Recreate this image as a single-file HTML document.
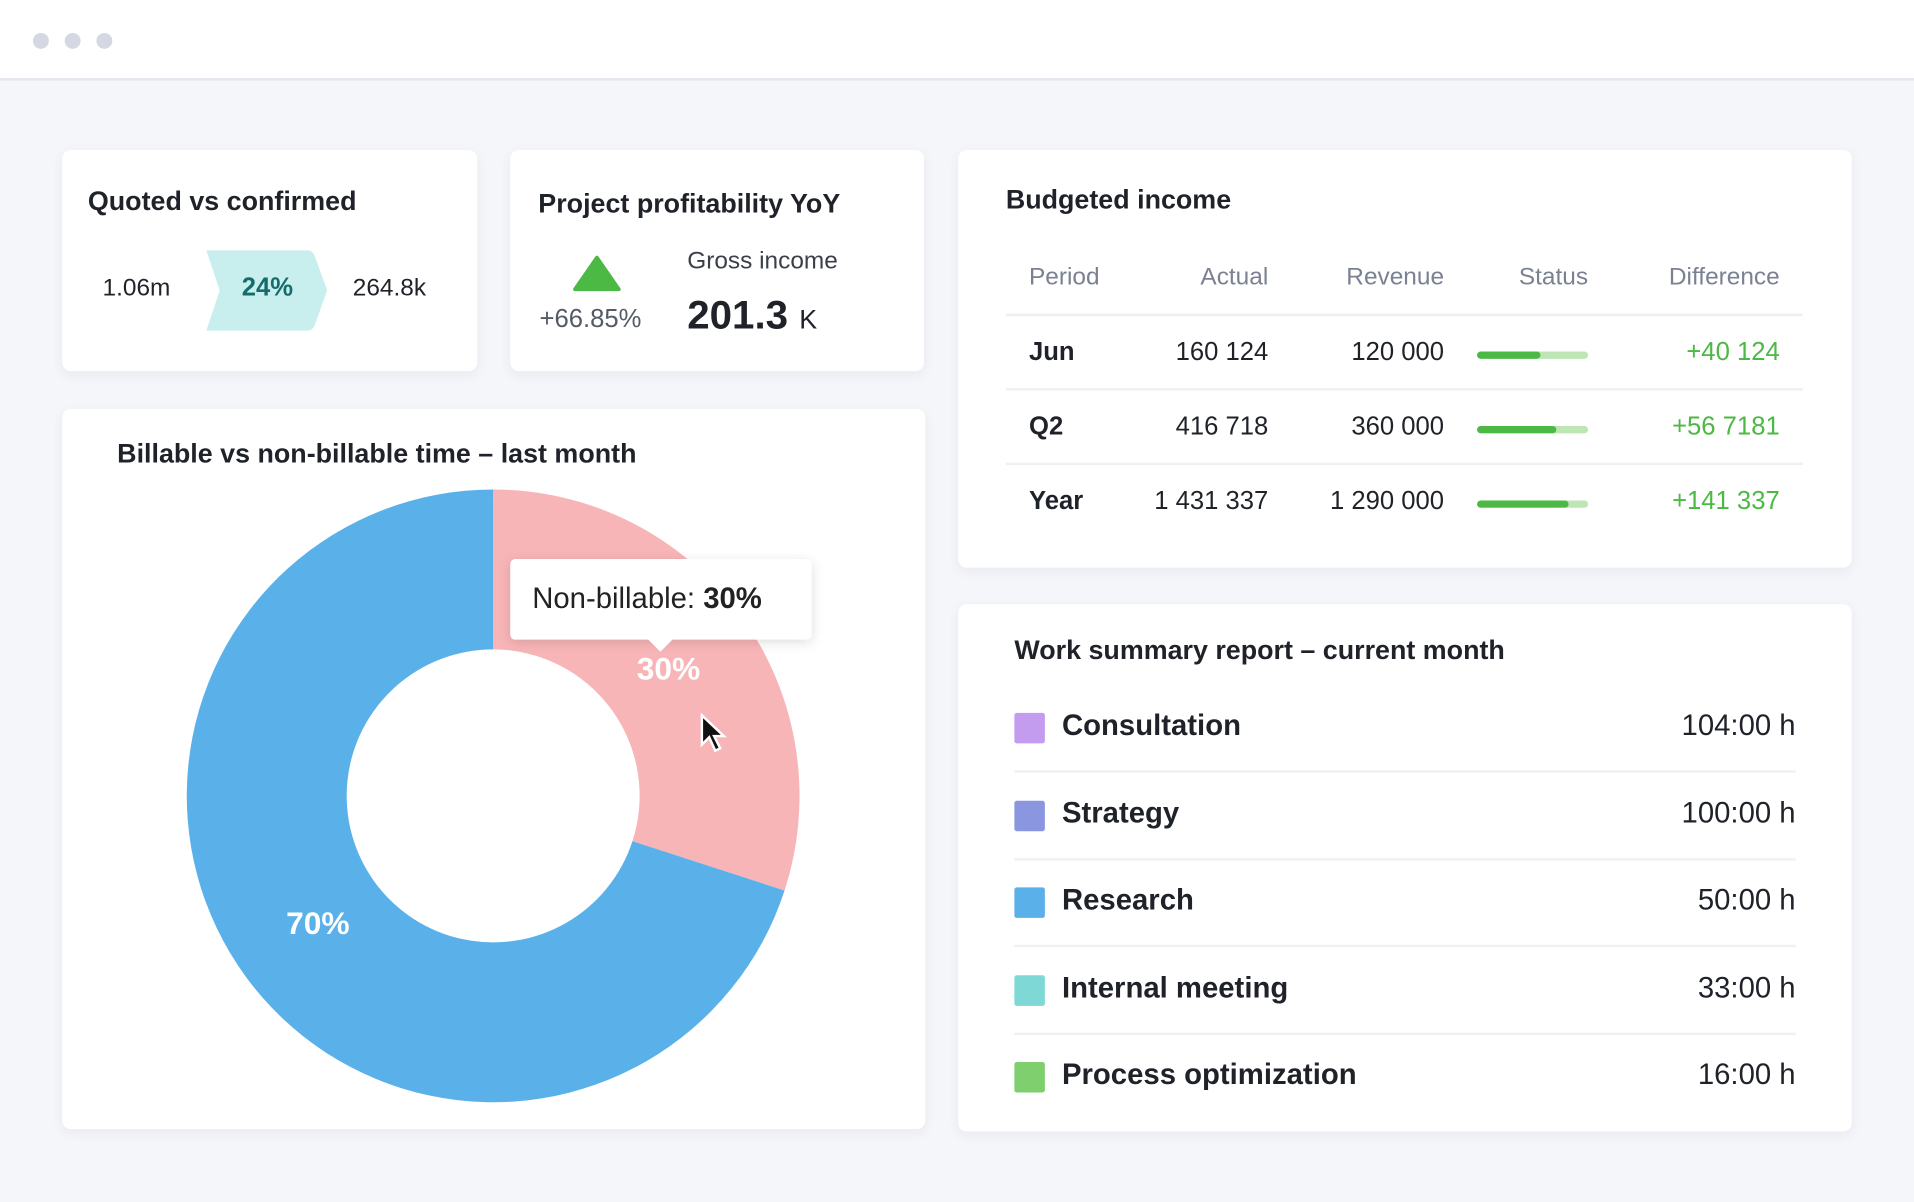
<!DOCTYPE html>
<html><head><meta charset="utf-8"><style>
html,body{margin:0;padding:0;width:1914px;height:1202px;overflow:hidden;background:#f5f6fa;font-family:"Liberation Sans",sans-serif;color:#1f2329}
#wrap{position:absolute;left:0;top:0;width:1568px;height:985px;transform:scale(1.22066);transform-origin:0 0}
.top{position:absolute;left:0;top:0;width:1568px;height:64px;background:#fff;border-bottom:2px solid #e4e7ee}
.dot{position:absolute;top:27px;width:13px;height:13px;border-radius:50%;background:#d3d8e3}
.card{position:absolute;background:#fff;border-radius:7px;box-shadow:0 3px 10px rgba(30,40,70,.06)}
.t{position:absolute;font-size:22px;font-weight:bold;white-space:nowrap}
.a{position:absolute;white-space:nowrap}
.hd{position:absolute;font-size:20px;color:#7a8192;top:93px}
.rw{position:absolute;font-size:21px}
.ln{position:absolute;height:2px;background:#eef0f4}
</style></head><body>
<div id="wrap">
<div class="top">
 <div class="dot" style="left:27px"></div>
 <div class="dot" style="left:53px"></div>
 <div class="dot" style="left:79px"></div>
</div>

<div class="card" style="left:51px;top:123px;width:340px;height:181px">
 <div class="t" style="left:21px;top:29px">Quoted vs confirmed</div>
 <div class="a" style="left:33px;top:102px;font-size:20px">1.06m</div>
 <svg style="position:absolute;left:115px;top:82px" width="103" height="66"><path d="M3,0 H86 Q90,0 92,5 L102,33 L92,61 Q90,66 86,66 H3 L14,33 Z" fill="#c8efee"/></svg>
 <div class="a" style="left:147px;top:101px;font-size:21px;font-weight:bold;color:#166b6b">24%</div>
 <div class="a" style="left:238px;top:102px;font-size:20px">264.8k</div>
</div>

<div class="card" style="left:418px;top:123px;width:339px;height:181px">
 <div class="t" style="left:23px;top:31px">Project profitability YoY</div>
 <svg style="position:absolute;left:51px;top:86px" width="40" height="30"><path d="M20,2 L38,28 H2 Z" fill="#4cb944" stroke="#4cb944" stroke-width="3" stroke-linejoin="round"/></svg>
 <div class="a" style="left:24px;top:127px;font-size:21px;color:#555b66">+66.85%</div>
 <div class="a" style="left:145px;top:80px;font-size:20px;color:#3a3f48">Gross income</div>
 <div class="a" style="left:145px;top:116px;font-size:33px;font-weight:bold">201.3 <span style="font-size:22px;font-weight:normal">K</span></div>
</div>

<div class="card" style="left:785px;top:123px;width:732px;height:342px">
 <div class="t" style="left:39px;top:28px">Budgeted income</div>
 <div id="btab"></div>
</div>

<div class="card" style="left:51px;top:335px;width:707px;height:590px">
 <div class="t" style="left:45px;top:24px">Billable vs non-billable time – last month</div>
 <svg id="donut" style="position:absolute;left:0;top:0" width="707" height="590"></svg>
 <div style="position:absolute;left:367px;top:123px;width:247px;height:66px;background:#fff;border-radius:4px;box-shadow:0 2px 10px rgba(0,0,0,.13)">
  <div style="position:absolute;left:116px;bottom:-7px;width:14px;height:14px;background:#fff;transform:rotate(45deg)"></div>
  <div class="a" style="left:18px;top:19px;font-size:24px;color:#222">Non-billable: <b>30%</b></div>
 </div>
 <svg style="position:absolute;left:522px;top:249px" width="26" height="36"><path d="M2,2 L2,26 L8,20 L13,31 L17,29 L12,19 L20,19 Z" fill="#111" stroke="#fff" stroke-width="2"/></svg>
</div>

<div class="card" style="left:785px;top:495px;width:732px;height:432px">
 <div class="t" style="left:46px;top:25px">Work summary report – current month</div>
 <div id="wlist"></div>
</div>
</div>
<script>
// Budget table data
const periods=["Jun","Q2","Year"];
const actuals=["160 124","416 718","1 431 337"];
const revenues=["120 000","360 000","1 290 000"];
const statusPct=[57,71,82];
const diffs=["+40 124","+56 7181","+141 337"];
// Donut data
const sliceLabels=["Non-billable","Billable"];
const sliceValues=[30,70];
// Work summary data
const tasks=["Consultation","Strategy","Research","Internal meeting","Process optimization"];
const hours=["104:00 h","100:00 h","50:00 h","33:00 h","16:00 h"];

const bt=document.getElementById('btab');
const heads=[["Period",58,'l'],["Actual",254,'r'],["Revenue",398,'r'],["Status",516,'r'],["Difference",673,'r']];
heads.forEach(h=>{const d=document.createElement('div');d.className='hd';d.textContent=h[0];
 if(h[2]=='l')d.style.left=h[1]+'px';else d.style.right=(732-h[1])+'px';
 
 
 bt.appendChild(d);});
periods.forEach((p,i)=>{const y=166+i*61-12;
 const ln=document.createElement('div');ln.className='ln';ln.style.cssText=`left:39px;width:653px;top:${134+i*61}px`;
 
 
 bt.appendChild(ln);
 const mk=(txt,css,name)=>{const d=document.createElement('div');d.className='rw';d.textContent=txt;d.style.cssText=css+`;top:${y}px`;
  
  
  bt.appendChild(d);};
 mk(p,'left:58px;font-weight:bold','period-cell');
 mk(actuals[i],'right:478px','actual-cell');
 mk(revenues[i],'right:334px','revenue-cell');
 mk(diffs[i],'right:59px;color:#4cb944','difference-cell');
 const bar=document.createElement('div');bar.style.cssText=`position:absolute;left:425px;top:${y+11}px;width:91px;height:6px;border-radius:3px;background:#bde6b4;overflow:hidden`;
 
 
 const f=document.createElement('div');f.style.cssText=`height:100%;width:${statusPct[i]}%;background:#4cb944;border-radius:3px`;bar.appendChild(f);bt.appendChild(bar);
});

const svg=document.getElementById('donut');const NS='http://www.w3.org/2000/svg';
const cx=353,cy=317,R=251,r=120,cols=["#f8b5b7","#5ab1ea"];
const tot=sliceValues.reduce((a,b)=>a+b,0);let a0=0;
const pt=(a,rad)=>[cx+rad*Math.sin(a),cy-rad*Math.cos(a)];
sliceValues.forEach((v,i)=>{const a1=a0+v/tot*2*Math.PI;const lg=(a1-a0)>Math.PI?1:0;
 const [x0,y0]=pt(a0,R),[x1,y1]=pt(a1,R),[x2,y2]=pt(a1,r),[x3,y3]=pt(a0,r);
 const p=document.createElementNS(NS,'path');
 p.setAttribute('d',`M${x0},${y0} A${R},${R} 0 ${lg} 1 ${x1},${y1} L${x2},${y2} A${r},${r} 0 ${lg} 0 ${x3},${y3} Z`);
 p.setAttribute('fill',cols[i]);
 
 
 svg.appendChild(p);
 const am=(a0+a1)/2;const [lx,ly]=pt(am,(R+r)/2-8);
 const t=document.createElementNS(NS,'text');t.setAttribute('x',lx);t.setAttribute('y',ly+9);t.setAttribute('text-anchor','middle');
 t.setAttribute('fill','#fff');t.setAttribute('font-size','26');t.setAttribute('font-weight','bold');t.setAttribute('font-family','Liberation Sans, sans-serif');
 t.textContent=v+'%';
 
 
 svg.appendChild(t);a0=a1;});

const wl=document.getElementById('wlist');const wc=["#c39cf0","#8a97e0","#5ab1ea","#7dd8d6","#7fcf6f"];
tasks.forEach((tk,i)=>{const y=101+i*71.5;
 const sq=document.createElement('div');sq.style.cssText=`position:absolute;left:46px;top:${y-12}px;width:25px;height:25px;border-radius:2px;background:${wc[i]}`;
 
 
 wl.appendChild(sq);
 const l=document.createElement('div');l.className='a';l.style.cssText=`left:85px;top:${y-15}px;font-size:24px;font-weight:bold`;l.textContent=tk;
 
 
 wl.appendChild(l);
 const h=document.createElement('div');h.className='a';h.style.cssText=`right:46px;top:${y-15}px;font-size:24px`;h.textContent=hours[i];
 
 
 wl.appendChild(h);
 if(i<tasks.length-1){const ln=document.createElement('div');ln.className='ln';ln.style.cssText=`left:46px;width:640px;top:${y+35}px`;
  
  
  wl.appendChild(ln);}
});
</script>
</body></html>
